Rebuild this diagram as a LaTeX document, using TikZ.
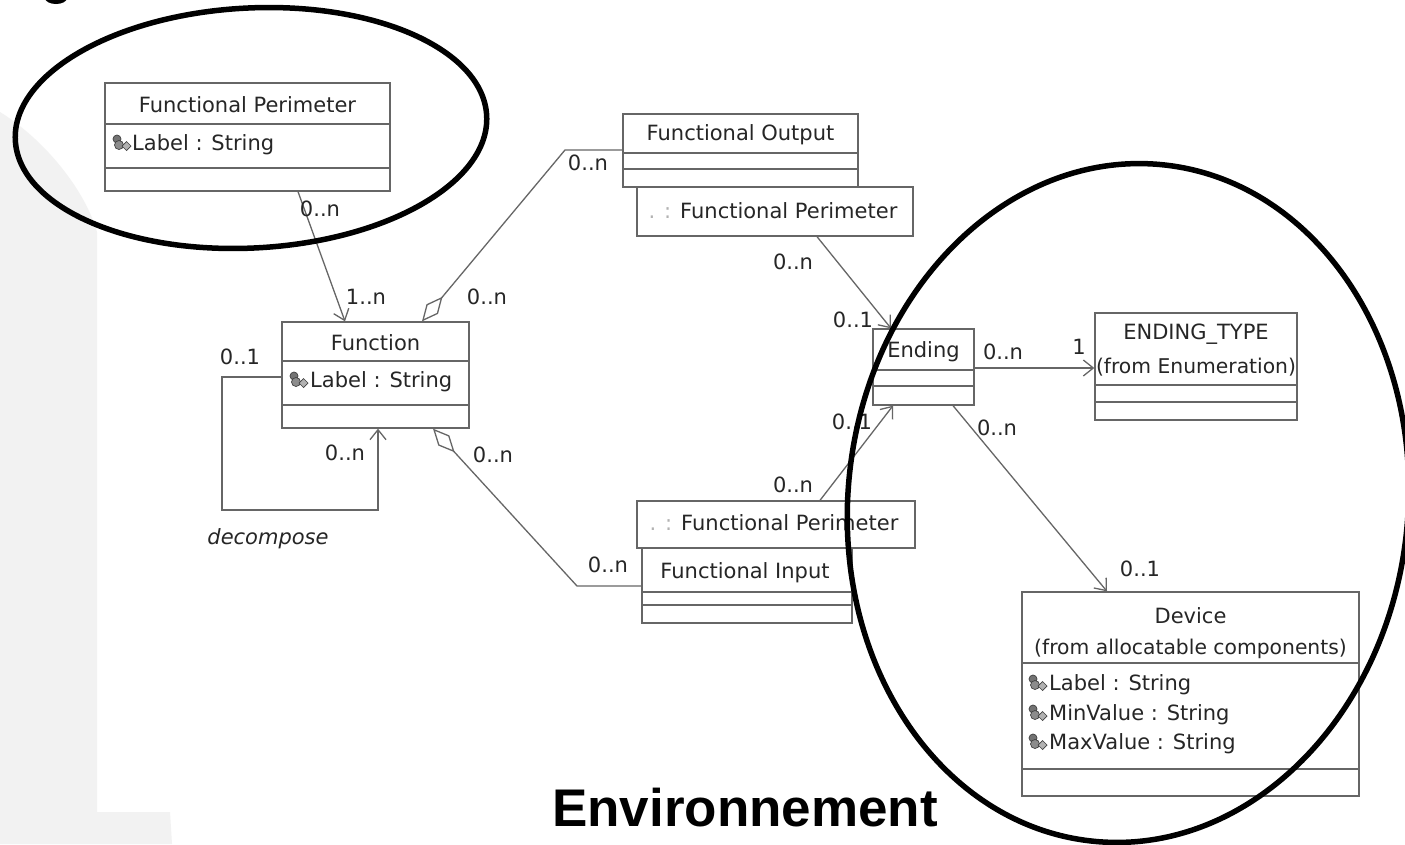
\documentclass[tikz,border=0pt]{standalone}
\usepackage{fontspec}
\setmainfont{Liberation Sans}
\newfontfamily\umlfont{DejaVu Sans}
\usetikzlibrary{arrows.meta,calc}
\begin{document}
\begin{tikzpicture}[x=1pt,y=-1pt,
  line/.style={draw=black!60, line width=1.3pt},
  box/.style={draw=black!60, line width=1.3pt, fill=white, inner sep=0pt, rectangle},
  txt/.style={font=\umlfont\fontsize{21}{24}\selectfont, text=black!85, inner sep=0pt, text height=15pt, text depth=0pt},
  itxt/.style={txt, font=\umlfont\fontsize{21}{24}\selectfont\itshape},
  halo/.style={draw=black, line width=5.5pt},
  nav/.style={line, -{Straight Barb[length=10pt,width=16pt,line width=1.3pt]}},
  agg/.style={line, {Diamond[open,length=32pt,width=15pt,line width=1.3pt]}-},
  attricon/.pic={
    \draw[black!75, fill=black!55, line width=0.7pt] (5,-4) circle (4pt);
    \draw[black!75, fill=black!45, line width=0.7pt] (7,2) circle (4.5pt);
    \draw[black!75, fill=black!30, line width=0.7pt] (10,3) -- (14.5,-1.5) -- (19,3) -- (14.5,7.5) -- cycle;
  }
]
\useasboundingbox (0,0) rectangle (1405,844);
\fill[white] (0,0) rectangle (1405,844);
% light background shape on the left
\fill[black!5] (0,112) .. controls (45,140) and (85,190) .. (97,232) -- (97,812) -- (170,812) -- (172,844) -- (0,844) -- cycle;
\fill[black] (56,-2) ellipse [x radius=11pt, y radius=6pt];

% ---------- classes ----------
% Functional Perimeter
\node[box, minimum width=285pt, minimum height=108pt] (fp) at (247.5,137) {};
\draw[line] (fp.west |- 0,124) -- (fp.east |- 0,124);
\draw[line] (fp.west |- 0,168) -- (fp.east |- 0,168);
\node[txt] (fpt) at (247.5,105) {Functional Perimeter};
\pic at (112,143) {attricon};
\node[txt, anchor=west] (fpa) at (132,143) {Label : String};

% Function
\node[box, minimum width=187pt, minimum height=106pt] (fn) at (375.5,375) {};
\draw[line] (fn.west |- 0,361) -- (fn.east |- 0,361);
\draw[line] (fn.west |- 0,405) -- (fn.east |- 0,405);
\node[txt] (fnt) at (375.5,343) {Function};
\pic at (289,380) {attricon};
\node[txt, anchor=west] (fna) at (310,380) {Label : String};

% Functional Output
\node[box, minimum width=235pt, minimum height=73pt] (fo) at (740.5,150.5) {};
\draw[line] (fo.west |- 0,153) -- (fo.east |- 0,153);
\draw[line] (fo.west |- 0,169) -- (fo.east |- 0,169);
\node[txt] (fot) at (740.5,133) {Functional Output};
\node[box, minimum width=276pt, minimum height=49pt] (fop) at (775,211.5) {};
\node[txt] (fopt) at (773,211) {\textcolor{black!30}{. :} Functional Perimeter};

% Functional Input
\node[box, minimum width=278pt, minimum height=47pt] (fip) at (776,524.5) {};
\node[txt] (fipt) at (774,523) {\textcolor{black!30}{. :} Functional Perimeter};
\node[box, minimum width=210pt, minimum height=75pt] (fi) at (747,585.5) {};
\draw[line] (fi.west |- 0,592) -- (fi.east |- 0,592);
\draw[line] (fi.west |- 0,605) -- (fi.east |- 0,605);
\node[txt] (fit) at (745,571) {Functional Input};

% Ending
\node[box, minimum width=101pt, minimum height=76pt] (en) at (923.5,367) {};
\draw[line] (en.west |- 0,370) -- (en.east |- 0,370);
\draw[line] (en.west |- 0,386) -- (en.east |- 0,386);
\node[txt] (ent) at (923.5,350) {Ending};

% ENDING_TYPE
\node[box, minimum width=202pt, minimum height=107pt] (et) at (1196,366.5) {};
\draw[line] (et.west |- 0,385) -- (et.east |- 0,385);
\draw[line] (et.west |- 0,402) -- (et.east |- 0,402);
\node[txt] (ett) at (1196,332) {ENDING\_TYPE};
\node[txt, font=\umlfont\fontsize{20.3}{24}\selectfont] (ets) at (1196,366) {(from Enumeration)};

% Device
\node[box, minimum width=337pt, minimum height=204pt] (dv) at (1190.5,694) {};
\draw[line] (dv.west |- 0,663) -- (dv.east |- 0,663);
\draw[line] (dv.west |- 0,769) -- (dv.east |- 0,769);
\node[txt] (dvt) at (1190.5,616) {Device};
\node[txt, font=\umlfont\fontsize{20.3}{24}\selectfont] (dvs) at (1190.5,647) {(from allocatable components)};
\pic at (1028,683) {attricon};
\node[txt, anchor=west] (dva1) at (1049,683) {Label : String};
\pic at (1028,713) {attricon};
\node[txt, anchor=west] (dva2) at (1049,713) {MinValue : String};
\pic at (1028,742) {attricon};
\node[txt, anchor=west] (dva3) at (1049,742) {MaxValue : String};

% ---------- connectors ----------
\draw[nav] (298,0 |- fp.south) -- (345,0 |- fn.north);
\draw[agg] (422,0 |- fn.north) -- (565,150) -- (fo.west |- 0,150);
\draw[agg] (433,0 |- fn.south) -- (577,586) -- (fi.west |- 0,586);
\draw[nav] (fn.west |- 0,377) -- (222,377) -- (222,510) -- (378,510) -- (378,0 |- fn.south);
\draw[nav] (817,0 |- fop.south) -- (891,0 |- en.north);
\draw[nav] (820,0 |- fip.north) -- (893,0 |- en.south);
\draw[nav] (en.east |- 0,368) -- (et.west |- 0,368);
\draw[nav] (953,0 |- en.south) -- (1107,0 |- dv.north);

% ---------- multiplicities ----------
\node[txt] (m1) at (320,209) {0..n};
\node[txt] (m2) at (366,297) {1..n};
\node[txt] (m3) at (487,297) {0..n};
\node[txt] (m4) at (588,163) {0..n};
\node[txt] (m5) at (240,357) {0..1};
\node[txt] (m6) at (345,453) {0..n};
\node[itxt] (dec) at (268,537) {decompose};
\node[txt] (m7) at (493,455) {0..n};
\node[txt] (m8) at (608,565) {0..n};
\node[txt] (m9) at (793,262) {0..n};
\node[txt] (m10) at (853,320) {0..1};
\node[txt] (m11) at (793,485) {0..n};
\node[txt] (m12) at (852,422) {0..1};
\node[txt] (m13) at (1003,352) {0..n};
\node[txt] (m14) at (1079,347) {1};
\node[txt] (m15) at (997,428) {0..n};
\node[txt] (m16) at (1140,569) {0..1};

\node[font=\fontsize{53}{60}\selectfont\bfseries, inner sep=0pt] (env) at (745,808) {Environnement};

% ---------- highlight ellipses ----------
\draw[halo, rotate around={3:(251,128)}] (251,128) ellipse [x radius=236pt, y radius=120pt];
\draw[halo, rotate around={-6:(1128,503)}] (1128,503) ellipse [x radius=280pt, y radius=340pt];
\end{tikzpicture}
\end{document}
